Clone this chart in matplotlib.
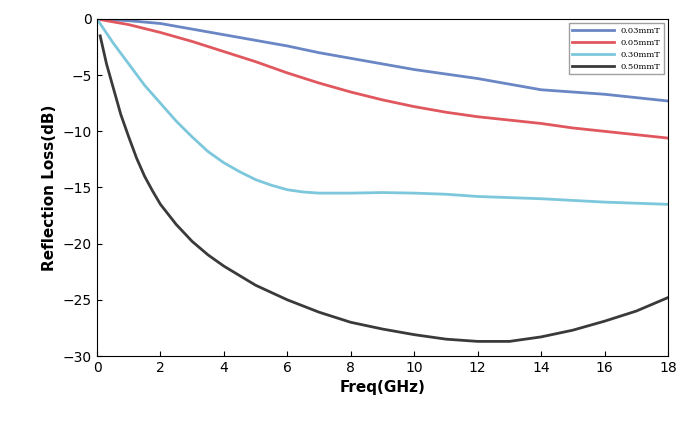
import matplotlib
matplotlib.use("Agg")
import matplotlib.pyplot as plt

labels = ["0.03mmT", "0.05mmT", "0.30mmT", "0.50mmT"]
colors = ["#6a86c4", "#e0575e", "#7cc7dc", "#3a3a3a"]
f_blue = [0, 1, 2, 3, 4, 5, 6, 7, 8, 9, 10, 11, 12, 13, 14, 15, 16, 17, 18]
rl_blue = [0, -0.15, -0.4, -0.9, -1.4, -1.9, -2.4, -3.0, -3.5, -4.0, -4.5, -4.9, -5.3, -5.8, -6.3, -6.5, -6.7, -7.0, -7.3]
f_red = [0, 1, 2, 3, 4, 5, 6, 7, 8, 9, 10, 11, 12, 13, 14, 15, 16, 17, 18]
rl_red = [0, -0.5, -1.2, -2.0, -2.9, -3.8, -4.8, -5.7, -6.5, -7.2, -7.8, -8.3, -8.7, -9.0, -9.3, -9.7, -10.0, -10.3, -10.6]
f_cyan = [0, 0.5, 1, 1.5, 2, 2.5, 3, 3.5, 4, 4.5, 5, 5.5, 6, 6.5, 7, 8, 9, 10, 11, 12, 14, 16, 18]
rl_cyan = [0, -2.1, -4, -5.9, -7.5, -9.1, -10.5, -11.8, -12.8, -13.6, -14.3, -14.8, -15.2, -15.4, -15.5, -15.5, -15.45, -15.5, -15.6, -15.8, -16.0, -16.3, -16.5]
f_black = [0.1, 0.3, 0.5, 0.75, 1, 1.25, 1.5, 1.75, 2, 2.5, 3, 3.5, 4, 5, 6, 7, 8, 9, 10, 11, 12, 13, 14, 15, 16, 17, 18]
rl_black = [-1.5, -4, -6, -8.5, -10.5, -12.4, -14, -15.3, -16.5, -18.3, -19.8, -21, -22, -23.7, -25, -26.1, -27, -27.6, -28.1, -28.5, -28.7, -28.7, -28.3, -27.7, -26.9, -26.0, -24.8]

fig = plt.figure(figsize=(6.85, 4.4), dpi=100)
ax = fig.add_axes([97/685, 1-356/440, 571/685, 337/440])
for f, r, c, l in zip([f_blue, f_red, f_cyan, f_black], [rl_blue, rl_red, rl_cyan, rl_black], colors, labels):
    ax.plot(f, r, color=c, lw=2, label=l)
ax.set_xlim(0, 18)
ax.set_ylim(-30, 0)
ax.set_xticks(range(0, 19, 2))
ax.set_yticks(range(-30, 1, 5))
ax.tick_params(labelsize=10, direction="in")
ax.set_xlabel("Freq(GHz)", fontsize=11, fontweight="bold")
ax.set_ylabel("Reflection Loss(dB)", fontsize=11, fontweight="bold")
ax.legend(loc="upper right", frameon=True, fancybox=False, edgecolor="#888888",
          handlelength=5, prop={"family": "DejaVu Serif", "size": 6})
fig.savefig("out.png", dpi=100)
